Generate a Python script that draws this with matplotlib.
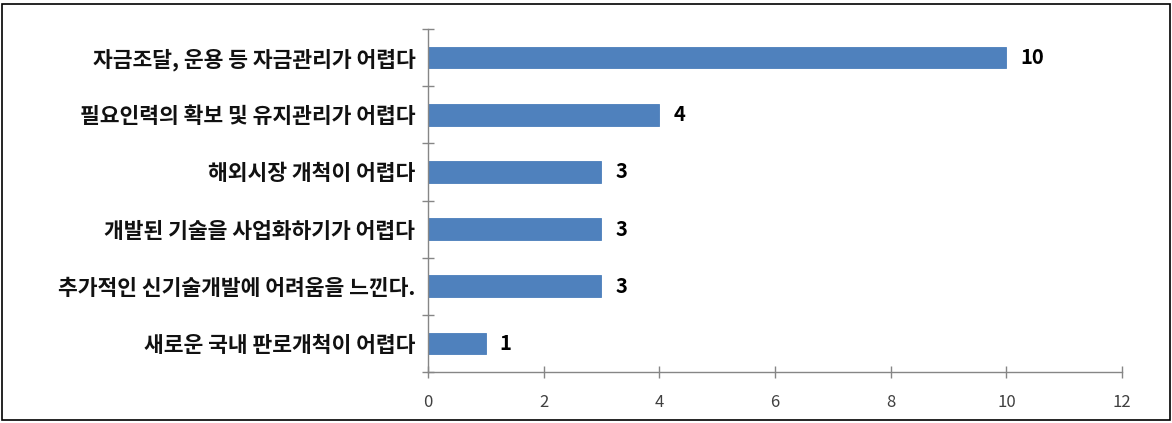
import matplotlib
matplotlib.use("Agg")
import matplotlib.pyplot as plt
from matplotlib.patches import Rectangle

plt.rcParams['font.family'] = ['Noto Sans CJK KR', 'DejaVu Sans']

# 항목 (위에서 아래 순서) 과 응답 수
categories = [
    "자금조달, 운용 등 자금관리가 어렵다",
    "필요인력의 확보 및 유지관리가 어렵다",
    "해외시장 개척이 어렵다",
    "개발된 기술을 사업화하기가 어렵다",
    "추가적인 신기술개발에 어려움을 느낀다.",
    "새로운 국내 판로개척이 어렵다",
]
values = [10, 4, 3, 3, 3, 1]
x_ticks = [0, 2, 4, 6, 8, 10, 12]

fig = plt.figure(figsize=(11.72, 4.23), dpi=100)
ax = fig.add_axes([0.365, 0.1206, 0.5925, 0.8108])

pos = list(range(len(categories)))[::-1]
bars = ax.barh(pos, values, height=0.38, color="#4F81BD", edgecolor="#4A7EBB", linewidth=0.6)

for p, v in zip(pos, values):
    ax.annotate(str(v), xy=(v, p), xytext=(10, 0), textcoords="offset points",
                va="center", ha="left", fontsize=14.5, fontweight="bold",
                family=["Noto Sans CJK KR", "DejaVu Sans"], color="black")

ax.set_xlim(0, 12)
ax.set_ylim(-0.5, len(categories) - 0.5)
ax.set_xticks(x_ticks)
ax.set_xticklabels([str(t) for t in x_ticks])

# 범주 경계에 눈금, 라벨은 막대 중앙
ax.set_yticks([i - 0.5 for i in range(len(categories) + 1)])
ax.set_yticklabels([])
ax.set_yticks(pos, minor=True)
ax.set_yticklabels(categories, minor=True, fontweight="bold")
ax.tick_params(axis="y", which="minor", length=0, pad=9, labelsize=15.5, labelcolor="#111111")
ax.tick_params(axis="y", which="major", direction="inout", length=8, color="#868686", width=1)
ax.tick_params(axis="x", direction="inout", length=8, color="#868686", width=1,
               labelsize=12, labelcolor="#404040", pad=12)

for side in ["top", "right"]:
    ax.spines[side].set_visible(False)
for side in ["left", "bottom"]:
    ax.spines[side].set_color("#868686")
    ax.spines[side].set_linewidth(1)

# 바깥 테두리
fig.patches.append(Rectangle((2 / 1172, 3 / 423), 1168 / 1172, 416 / 423,
                             transform=fig.transFigure, fill=False,
                             edgecolor="black", linewidth=1.2))

fig.savefig("out.png", dpi=100)
